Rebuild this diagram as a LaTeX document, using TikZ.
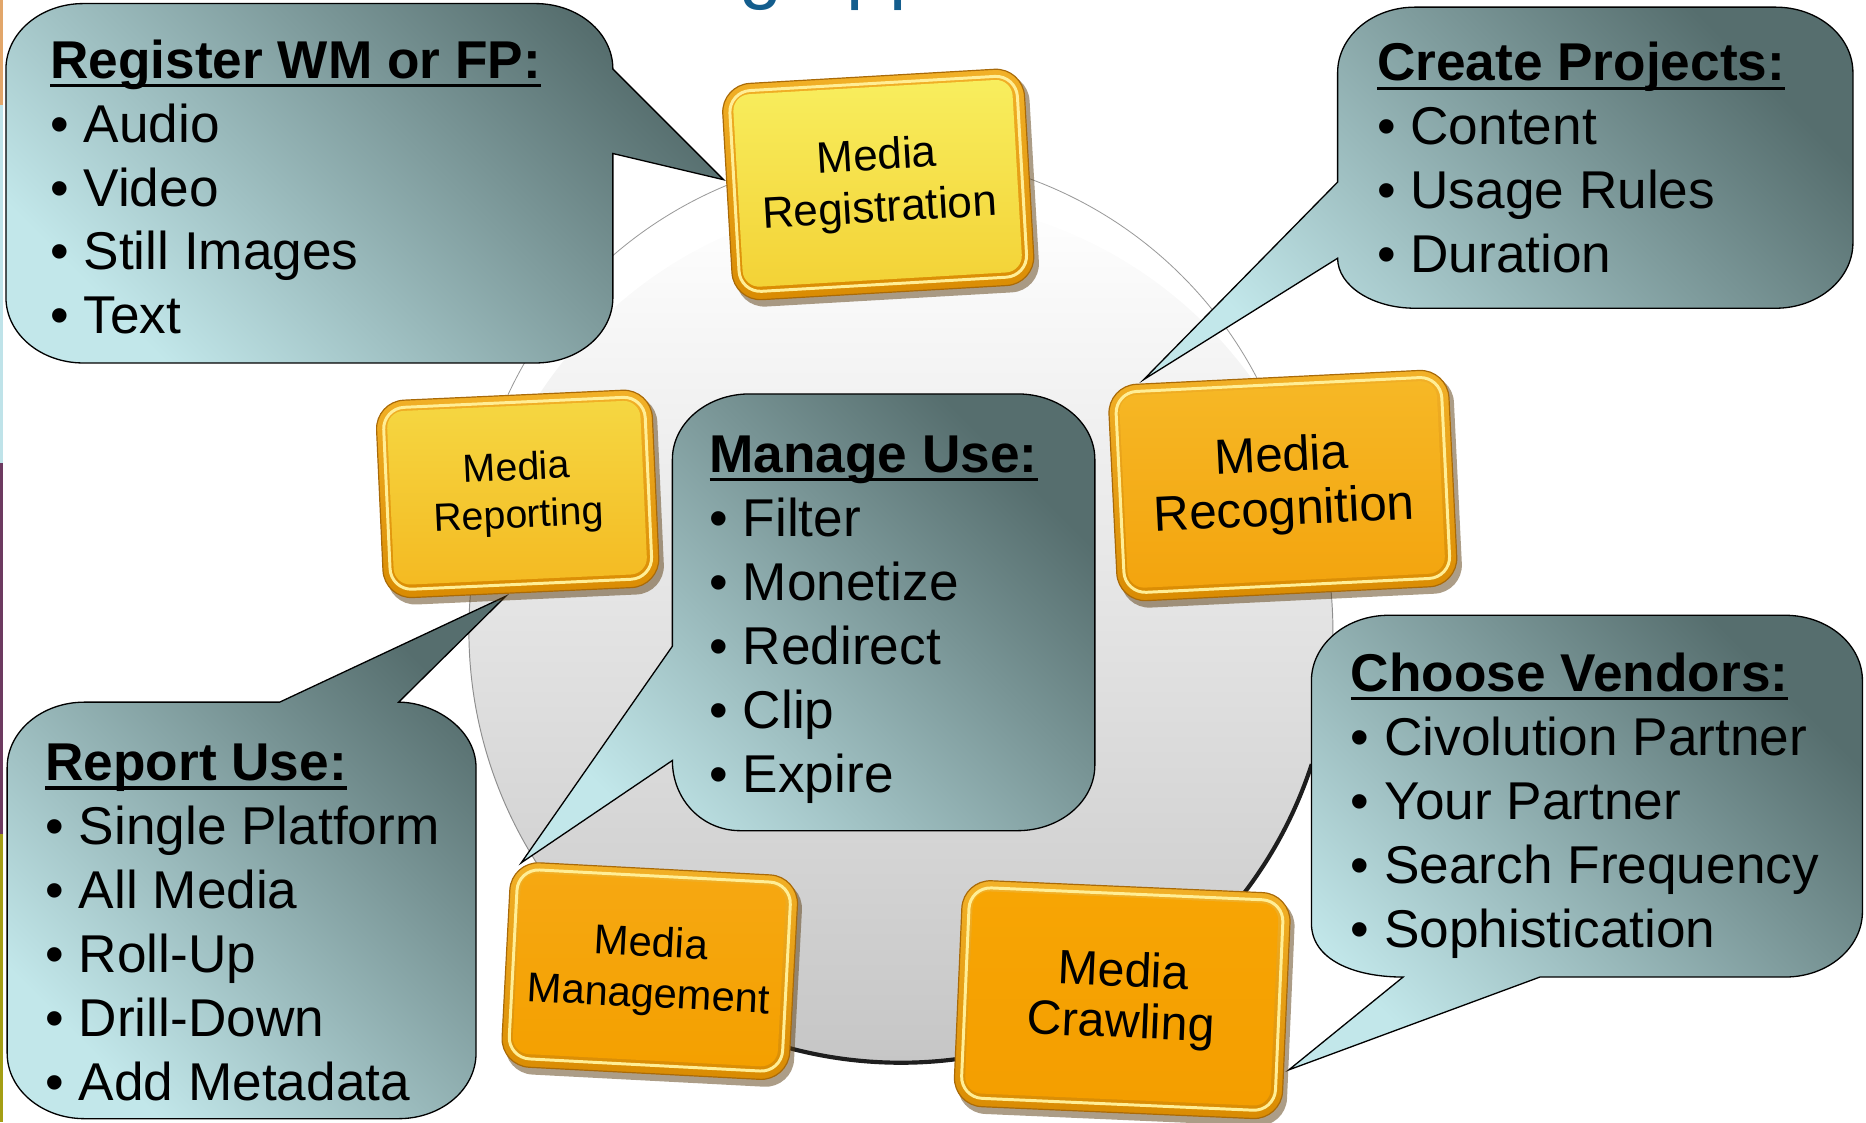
\documentclass[tikz,border=0pt]{standalone}
\usepackage{fontspec}
\setmainfont{Liberation Sans}

\definecolor{calldark}{HTML}{566E6E}
\definecolor{callmid}{HTML}{8EAFB1}
\definecolor{calllight}{HTML}{C2E7EA}
\definecolor{titleblue}{HTML}{135D8D}
\definecolor{diskmid}{HTML}{E8E8E8}
\definecolor{diskbot}{HTML}{C6C6C6}
\definecolor{diskedge}{HTML}{8E8E8E}
\definecolor{diskrim}{HTML}{1E1E1E}
\definecolor{thinarc}{HTML}{9A9A9A}
\definecolor{rimtop}{HTML}{F2B128}
\definecolor{rimbot}{HTML}{D98B02}
\definecolor{rimedge}{HTML}{A96A08}
\definecolor{hilite}{HTML}{FFEE96}
\definecolor{btnshadow}{HTML}{5A3C10}
\definecolor{regtop}{HTML}{F8EE5E}
\definecolor{regbot}{HTML}{F3D236}
\definecolor{reptop}{HTML}{F5D742}
\definecolor{repbot}{HTML}{F4BA22}
\definecolor{rectop}{HTML}{F6B826}
\definecolor{recbot}{HTML}{F3A40E}
\definecolor{mantop}{HTML}{F6A812}
\definecolor{manbot}{HTML}{F4A000}
\definecolor{cratop}{HTML}{F7A504}
\definecolor{crabot}{HTML}{F49E00}
\definecolor{stripA}{HTML}{E2A66A}
\definecolor{stripB}{HTML}{BFE3E9}
\definecolor{stripC}{HTML}{6D3A60}
\definecolor{stripD}{HTML}{A49E14}

\newsavebox\ulsave
\newcommand\ulbox[1]{\sbox\ulsave{#1}\rlap{\rule[-7.5pt]{\wd\ulsave}{2.8pt}}\usebox\ulsave}

\def\rx{65}\def\ry{55}\def\kx{29.1}\def\ky{24.6}
\newcommand\cTR[2]{-- ({#1-\rx},#2) .. controls ({#1-\kx},#2) and (#1,{#2+\ky}) .. (#1,{#2+\ry})}
\newcommand\cBR[2]{-- (#1,{#2-\ry}) .. controls (#1,{#2-\ky}) and ({#1-\kx},#2) .. ({#1-\rx},#2)}
\newcommand\cBL[2]{-- ({#1+\rx},#2) .. controls ({#1+\kx},#2) and (#1,{#2-\ky}) .. (#1,{#2-\ry})}
\newcommand\cTL[2]{-- (#1,{#2+\ry}) .. controls (#1,{#2+\ky}) and ({#1+\kx},#2) .. ({#1+\rx},#2)}

\tikzset{
  callout/.style={top color=calldark, middle color=callmid, bottom color=calllight, shading angle=-45,
    postaction={draw=black, line width=1.1pt}},
  ctitle/.style={anchor=base west, inner sep=0pt, font=\fontsize{44.7}{54}\selectfont\bfseries},
  citem/.style={anchor=base west, inner sep=0pt, font=\fontsize{44.7}{54}\selectfont},
  btntext/.style={align=center, inner sep=0pt, transform shape}
}

% #1 name, #2 centre, #3 half width, #4 half height, #5 angle, #6 face top, #7 face bottom, #8 font, #9 text
\newcommand\mbutton[9]{%
\begin{scope}[shift={#2}, rotate=#5]
  \fill[btnshadow, opacity=0.5, rounded corners=24pt] ({-#3+3},{-#4+4}) rectangle ({#3+4},{#4+6});
  \shade[rounded corners=24pt, top color=rimtop, bottom color=rimbot, draw=rimedge, line width=1pt] (-#3,-#4) rectangle (#3,#4);
  \draw[rounded corners=18pt, line width=2.5pt, draw=hilite] ({-#3+6},{-#4+6}) rectangle ({#3-6},{#4-7});
  \shade[rounded corners=14pt, top color=#6, bottom color=#7] ({-#3+9},{-#4+9}) rectangle ({#3-10},{#4-11});
  \node[btntext, font=#8] (#1) at (0,0) {#9};
\end{scope}}

\begin{document}
\begin{tikzpicture}[x=1pt,y=-1pt]
\useasboundingbox (0,0) rectangle (1568,943);
\clip (0,0) rectangle (1568,943);

% left edge strips
\fill[stripA] (0,0) rectangle (2.5,88);
\fill[stripB] (0,88) rectangle (2.5,389);
\fill[stripC] (0,389) rectangle (2.5,701);
\fill[stripD] (0,701) rectangle (2.5,943);

% cut-off title
\node[anchor=base west, inner sep=0pt, text=titleblue, font=\fontsize{65}{70}\selectfont] (title) at (621,-5) {g app};

% disk
\shade[top color=white, middle color=diskmid, bottom color=diskbot] (757,530) circle[radius=363];
\draw[diskedge, line width=0.8pt] (757,530) ++(-8:363) arc[start angle=-8, end angle=190, radius=363];
\draw[diskrim, line width=3.5pt] (757,530) ++(18:363) arc[start angle=18, end angle=115, radius=363];
\draw[thinarc, line width=0.7pt] (745,480) ++(-155:351) arc[start angle=-155, end angle=-25, radius=351];

% callouts
\path[callout] (200,3) \cTR{515}{3} -- (608,151) -- (515,129) \cBR{515}{305} \cBL{5}{305} \cTL{5}{3} -- cycle;
\path[callout] (1300,6) \cTR{1557}{6} \cBR{1557}{259} -- (1189,259) .. controls (1153,259) and (1124,240) .. (1124,217) -- (961,319) -- (1124,153) \cTL{1124}{6} -- cycle;
\path[callout] (740,331) \cTR{920}{331} \cBR{920}{698} -- (622,698) .. controls (590,698) and (565,672) .. (565,639) -- (438,725) -- (565,543) \cTL{565}{331} -- cycle;
\path[callout] (150,590) -- (235,590) -- (425,501) -- (335,590) .. controls (364,590) and (400,612) .. (400,645) \cBR{400}{940} \cBL{6}{940} \cTL{6}{590} -- cycle;
\path[callout] (1300,517) \cTR{1565}{517} \cBR{1565}{821} -- (1294,821) -- (1083,899) -- (1179,821) .. controls (1137,821) and (1102,806) .. (1102,776) \cTL{1102}{517} -- cycle;

% callout texts
\node[ctitle] (regT) at (42,66) {\ulbox{Register WM or FP:}};
\foreach \t [count=\i] in {Audio,Video,Still Images,Text}
  \node[citem] (reg\i) at (42,{66+53.6*\i}) {• \t};

\node[ctitle] (creT) at (1157,68) {\ulbox{Create Projects:}};
\foreach \t [count=\i] in {Content,Usage Rules,Duration}
  \node[citem] (cre\i) at (1157,{68+53.7*\i}) {• \t};

\node[ctitle] (manT) at (596,397) {\ulbox{Manage Use:}};
\foreach \t [count=\i] in {Filter,Monetize,Redirect,Clip,Expire}
  \node[citem] (manU\i) at (596,{397+53.8*\i}) {• \t};

\node[ctitle] (repT) at (38,656) {\ulbox{Report Use:}};
\foreach \t [count=\i] in {Single Platform,All Media,Roll-Up,Drill-Down,Add Metadata}
  \node[citem] (repU\i) at (38,{656+53.7*\i}) {• \t};

\node[ctitle] (venT) at (1135,581) {\ulbox{Choose Vendors:}};
\foreach \t [count=\i] in {Civolution Partner,Your Partner,Search Frequency,Sophistication}
  \node[citem] (ven\i) at (1135,{581+53.7*\i}) {• \t};

% buttons
\mbutton{reg}{(738,155)}{127}{91}{3.3}{regtop}{regbot}{\fontsize{37}{44}\selectfont}{Media\\Registration}
\mbutton{rep}{(435,415)}{116}{83}{2.6}{reptop}{repbot}{\fontsize{33}{40}\selectfont}{Media\\Reporting}
\mbutton{rec}{(1078,408)}{143}{91}{2.8}{rectop}{recbot}{\fontsize{41.5}{45}\selectfont}{Media\\Recognition}
\mbutton{man}{(546,816)}{121}{86}{-3}{mantop}{manbot}{\fontsize{35}{43}\selectfont}{Media\\Management}
\mbutton{cra}{(943,840)}{138}{95}{-2.5}{cratop}{crabot}{\fontsize{40.5}{43}\selectfont}{Media\\Crawling}
\end{tikzpicture}
\end{document}
